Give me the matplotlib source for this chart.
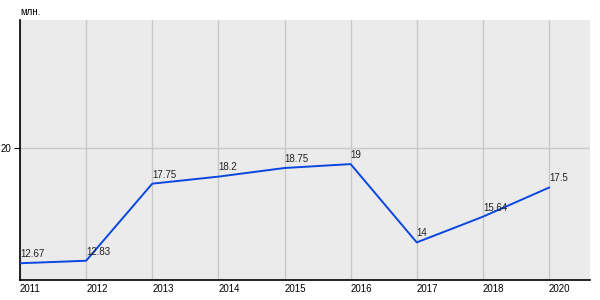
import numpy as np
import matplotlib.pyplot as plt

plt.rcParams['font.family'] = ['Liberation Sans', 'DejaVu Sans']

# данные
years = ['2011', '2012', '2013', '2014', '2015', '2016', '2017', '2018', '2020']
values = [12.67, 12.83, 17.75, 18.2, 18.75, 19, 14, 15.64, 17.5]
labels = ['12.67', '12.83', '17.75', '18.2', '18.75', '19', '14', '15.64', '17.5']

fig = plt.figure(figsize=(6, 3), dpi=100)
ax = fig.add_axes([20 / 600, 20 / 300, 570 / 600, 260 / 300])
ax.set_facecolor('#ebebeb')

x = np.arange(len(years))
ax.plot(x, values, color='#0a46e0', lw=1.4, zorder=3)

for xi, v, t in zip(x, values, labels):
    ax.annotate(t, (xi, v), xytext=(0, 3), textcoords='offset points',
                fontsize=7, color='#222222', ha='left', va='bottom', zorder=4)

ax.set_xlim(0, len(years) - 1 + 0.62)
ax.set_ylim(11.6, 28.2)
ax.set_xticks(x)
ax.set_xticklabels(years, ha='left')
ax.set_yticks([20])

ax.grid(True, color='#c8c8c8', lw=1)
ax.set_axisbelow(True)
for s in ['top', 'right']:
    ax.spines[s].set_visible(False)
ax.spines['left'].set_linewidth(1.2)
ax.spines['bottom'].set_linewidth(1.2)
ax.tick_params(axis='x', length=0, labelsize=7, pad=3)
ax.tick_params(axis='y', length=4, labelsize=7, pad=2)

fig.text(20 / 600, 1 - 12 / 300, 'млн.', fontsize=7, ha='left', va='center')

fig.savefig('out.png', dpi=100)
